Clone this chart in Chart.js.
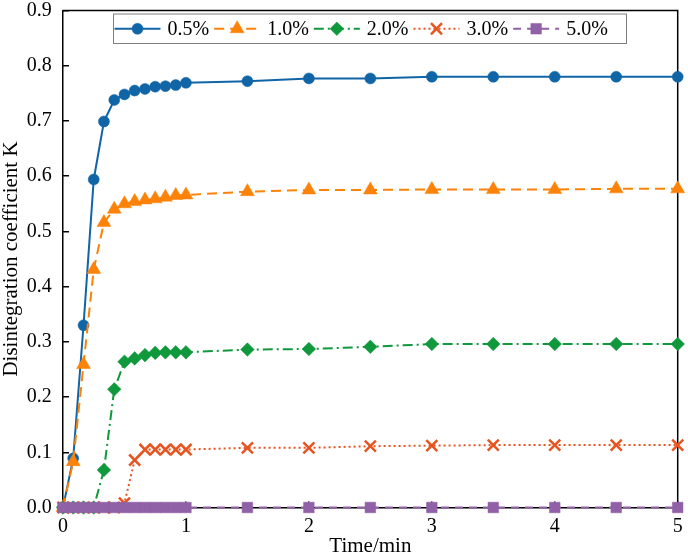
<!DOCTYPE html>
<html>
<head>
<meta charset="utf-8">
<script src="https://cdn.jsdelivr.net/npm/chart.js@4/dist/chart.umd.min.js"></script>
<style>
  html, body { margin: 0; padding: 0; background: #fff; }
</style>
</head>
<body>
<canvas id="chart" width="688" height="555"></canvas>
<script>
// time points (min)
const times = [0, 0.083, 0.167, 0.25, 0.333, 0.417, 0.5, 0.583, 0.667, 0.75, 0.833, 0.917, 1,
               1.5, 2, 2.5, 3, 3.5, 4, 4.5, 5];

const k05 = [0, 0.089, 0.330, 0.594, 0.699, 0.738, 0.748, 0.755, 0.758, 0.762, 0.763, 0.765, 0.769,
             0.772, 0.777, 0.777, 0.780, 0.780, 0.780, 0.780, 0.780];
const k10 = [0, 0.083, 0.259, 0.431, 0.516, 0.540, 0.550, 0.554, 0.557, 0.559, 0.562, 0.565, 0.566,
             0.572, 0.575, 0.575, 0.576, 0.576, 0.576, 0.577, 0.577];
const k20 = [0, 0, 0, 0, 0.068, 0.214, 0.264, 0.270, 0.276, 0.280, 0.281, 0.281, 0.281,
             0.286, 0.287, 0.291, 0.296, 0.296, 0.296, 0.296, 0.296];
const k30 = [0, 0, 0, 0, 0, 0, 0.008, 0.086, 0.105, 0.105, 0.105, 0.105, 0.105,
             0.108, 0.108, 0.111, 0.112, 0.113, 0.113, 0.113, 0.113];
const k50 = [0, 0, 0, 0, 0, 0, 0, 0, 0, 0, 0, 0, 0,
             0, 0, 0, 0, 0, 0, 0, 0];

const seriesLabels = ['0.5%', '1.0%', '2.0%', '3.0%', '5.0%'];
const xTicks = [0, 1, 2, 3, 4, 5];

const FONT = "'Liberation Serif', 'Times New Roman', serif";

const styles = [
  { color: '#1065a6', dash: [],            point: 'circle',   r: 5.5, bw: 0.5 },
  { color: '#fd8208', dash: [10, 6],       point: 'triangle', r: 8,   bw: 0.5 },
  { color: '#0f983c', dash: [10, 4, 2, 4], point: 'rectRot',  r: 6.8, bw: 0.5 },
  { color: '#e8541f', dash: [2, 3],        point: 'crossRot', r: 7.8, bw: 2.5 },
  { color: '#9061a7', dash: [8, 6],        point: 'rect',     r: 7.5, bw: 0.5 }
];

const pts = (ys) => times.map((t, i) => ({ x: t, y: ys[i] }));
const allSeries = [k05, k10, k20, k30, k50];

const datasets = allSeries.map((ys, i) => {
  const s = styles[i];
  return {
    label: seriesLabels[i],
    data: pts(ys),
    borderColor: s.color,
    backgroundColor: s.color,
    borderWidth: 2,
    borderDash: s.dash,
    pointStyle: s.point,
    pointRadius: s.r,
    pointBorderWidth: s.bw,
    pointBackgroundColor: s.color,
    pointBorderColor: s.color,
    tension: 0,
    clip: false,
    order: 5 - i
  };
});

// top + right frame lines
const frame = {
  id: 'frame',
  beforeDatasetsDraw(chart) {
    const { ctx, chartArea: a } = chart;
    ctx.save();
    ctx.strokeStyle = '#000';
    ctx.lineWidth = 1.5;
    ctx.beginPath();
    ctx.moveTo(a.left, a.top);
    ctx.lineTo(a.right, a.top);
    ctx.lineTo(a.right, a.bottom);
    ctx.stroke();
    ctx.restore();
  }
};

// boxed legend inside the plot, line sample with marker
const boxLegend = {
  id: 'boxLegend',
  afterDatasetsDraw(chart) {
    const { ctx } = chart;
    const box = { x: 113.5, y: 14, w: 513, h: 29.5 };
    ctx.save();
    ctx.fillStyle = '#fff';
    ctx.fillRect(box.x, box.y, box.w, box.h);
    ctx.strokeStyle = '#7f7f7f';
    ctx.lineWidth = 1;
    ctx.strokeRect(box.x, box.y, box.w, box.h);

    const cy = box.y + box.h / 2;
    ctx.font = '20px ' + FONT;
    ctx.textBaseline = 'middle';
    let x = 114.5;
    chart.data.datasets.forEach((ds, i) => {
      const s = styles[i];
      const sw = 46;
      ctx.save();
      ctx.strokeStyle = s.color;
      ctx.lineWidth = 2;
      ctx.setLineDash(s.dash);
      ctx.beginPath();
      ctx.moveTo(x, cy);
      ctx.lineTo(x + sw, cy);
      ctx.stroke();
      ctx.setLineDash([]);
      ctx.fillStyle = s.color;
      ctx.lineWidth = s.bw;
      Chart.helpers.drawPoint(ctx, { pointStyle: s.point, radius: s.r, rotation: 0, borderWidth: s.bw }, x + sw / 2, cy);
      ctx.restore();
      ctx.fillStyle = '#000';
      ctx.fillText(ds.label, x + sw + 7, cy + 1);
      x += sw + 7 + ctx.measureText(ds.label).width + 5;
    });
    ctx.restore();
  }
};

const noPad = (s) => { s.paddingTop = 0; s.paddingBottom = 0; s.paddingLeft = 0; s.paddingRight = 0; };

new Chart(document.getElementById('chart'), {
  type: 'line',
  data: { datasets },
  options: {
    responsive: false,
    animation: false,
    events: [],
    layout: { padding: { top: 10.5, right: 7, left: 0, bottom: 0 } },
    plugins: { legend: { display: false }, tooltip: { enabled: false } },
    scales: {
      x: {
        type: 'linear', min: 0, max: 5,
        afterBuildTicks: (s) => { s.ticks = xTicks.map(v => ({ value: v })); },
        afterFit: (s) => { s.height = 47.5; noPad(s); },
        grid: { drawOnChartArea: false, drawTicks: true, tickLength: -6, color: '#000', lineWidth: 1.5 },
        border: { display: true, color: '#000', width: 1.5 },
        ticks: { color: '#000', padding: 13.5, maxRotation: 0, font: { family: FONT, size: 20 } },
        title: { display: true, text: 'Time/min', color: '#000',
                 font: { family: FONT, size: 21, lineHeight: 1 }, padding: { top: 0, bottom: -2 } }
      },
      y: {
        min: 0, max: 0.9,
        afterFit: (s) => { s.width = 63; noPad(s); },
        grid: { drawOnChartArea: false, drawTicks: true, tickLength: -6, color: '#000', lineWidth: 1.5 },
        border: { display: true, color: '#000', width: 1.5 },
        ticks: { stepSize: 0.1, color: '#000', padding: 17.3, font: { family: FONT, size: 20 },
                 callback: (v) => Number(v).toFixed(1) },
        title: { display: true, text: 'Disintegration coefficient K', color: '#000',
                 font: { family: FONT, size: 21, lineHeight: 1 }, padding: { top: 0.5, bottom: 0 } }
      }
    }
  },
  plugins: [frame, boxLegend]
});
</script>
</body>
</html>
